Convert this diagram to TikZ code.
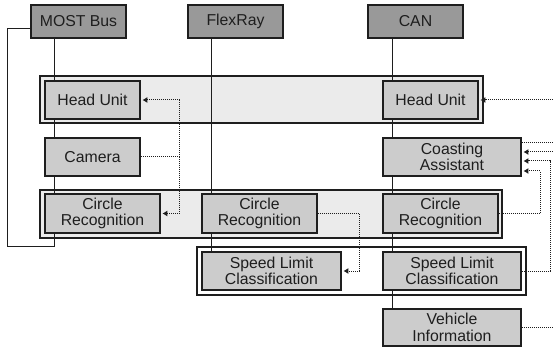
\documentclass[tikz,border=0pt]{standalone}
\usepackage{fontspec}
\setmainfont{Liberation Sans}
\usetikzlibrary{arrows.meta}
\definecolor{hdrfill}{HTML}{999999}
\definecolor{boxfill}{HTML}{CCCCCC}
\definecolor{bandfill}{HTML}{EBEBEB}
\definecolor{ink}{HTML}{1E1E1E}
\tikzset{
  hdr/.style={draw=ink, line width=1.6pt, fill=hdrfill, minimum width=95pt, minimum height=33pt, inner sep=0pt, text=ink, font=\fontsize{15.8}{16.6}\selectfont},
  ecu/.style={draw=ink, line width=1.6pt, fill=boxfill, inner sep=0pt, align=center, text=ink, font=\fontsize{15.8}{16.6}\selectfont},
  band/.style={draw=ink, line width=1.1pt, inner sep=0pt},
  bus/.style={draw=ink, line width=1pt},
  dep/.style={draw=ink, line width=1pt, dash pattern=on 1pt off 1pt},
  deparrow/.style={dep, -{Latex[length=5pt,width=6pt]}, shorten >=1.5pt},
}
\begin{document}
\begin{tikzpicture}[x=1pt,y=-1pt]
\useasboundingbox (0,0) rectangle (553,347);
% bands
\node[band, fill=bandfill, minimum width=443pt, minimum height=47pt] (g1) at (261.5,99.5) {};
\node[band, fill=bandfill, minimum width=462pt, minimum height=48pt] (g2) at (271,214) {};
\node[band, fill=white, minimum width=329pt, minimum height=48pt] (g3) at (361.5,271) {};
% bus headers
\node[hdr] (most) at (78.5,21.5) {MOST Bus};
\node[hdr] (flex) at (235.5,21.5) {FlexRay};
\node[hdr] (can) at (415.5,21.5) {CAN};
% bus lines
\coordinate (lft) at (7,0);
\draw[bus] ([xshift=-24pt]most.south) coordinate (m0) -- (m0 |- g3.north) coordinate (m1) -- (m1 -| lft) -- (lft |- 0,29) coordinate (m2) -- (m2 -| most.west);
\draw[bus] ([xshift=-24pt]flex.south) coordinate (f0) -- (f0 |- 0,252);
\draw[bus] ([xshift=-22.8pt]can.south) coordinate (c0) -- (c0 |- 0,309);
% ECUs
\node[ecu, minimum width=95pt, minimum height=38pt] (hl) at (92.5,100) {Head Unit};
\node[ecu, minimum width=95pt, minimum height=38pt] (hr) at (430.5,100) {Head Unit};
\node[ecu, minimum width=95pt, minimum height=38pt] (cam) at (92.5,157) {Camera};
\node[ecu, minimum width=138pt, minimum height=38pt] (coast) at (452,157) {Coasting\\Assistant};
\node[ecu, minimum width=115pt, minimum height=39pt] (crl) at (102.5,213.5) {Circle\\Recognition};
\node[ecu, minimum width=115pt, minimum height=39pt] (crm) at (259.5,213.5) {Circle\\Recognition};
\node[ecu, minimum width=115pt, minimum height=39pt] (crr) at (440.5,213.5) {Circle\\Recognition};
\node[ecu, minimum width=139pt, minimum height=38pt] (sll) at (271.5,271) {Speed Limit\\Classification};
\node[ecu, minimum width=138pt, minimum height=38pt] (slr) at (452,271) {Speed Limit\\Classification};
\node[ecu, minimum width=138pt, minimum height=37pt] (veh) at (452,327.5) {Vehicle\\Information};
% dotted dependencies
\coordinate (v1) at (179,0);
\coordinate (v2) at (359,0);
\coordinate (v3) at (540,0);
\coordinate (v4) at (550,0);
\coordinate (edge) at (553,0);
\coordinate (p1) at ([yshift=14pt]coast.east);
\coordinate (p2) at ([yshift=5pt]coast.east);
\coordinate (p3) at ([yshift=-4pt]coast.east);
\coordinate (p4) at ([yshift=-14pt]coast.east);
\draw[dep] (cam.east) -- (cam.east -| v1) coordinate (j1);
\draw[deparrow] (j1) |- (hl.east);
\draw[deparrow] (j1) |- (crl.east);
\draw[deparrow] (crm.east) -| (v2 |- sll.east) -- (sll.east);
\draw[deparrow] (edge |- hr.east) -- (hr.east);
\draw[dep] (p1) -- (p1 -| edge);
\draw[deparrow] (p2 -| edge) -- (p2);
\draw[deparrow] (slr.east) -| (v4 |- p3) -- (p3);
\draw[deparrow] (crr.east) -| (v3 |- p4) -- (p4);
\draw[dep] (veh.east) -- (veh.east -| edge);
\end{tikzpicture}
\end{document}
